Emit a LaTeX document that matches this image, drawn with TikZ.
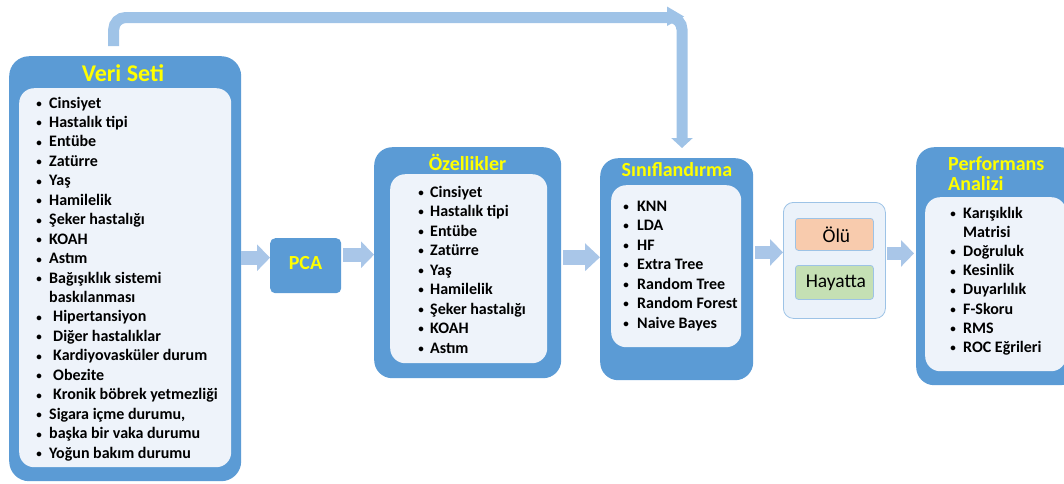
\documentclass[tikz,border=0pt]{standalone}
\usepackage{fontspec}
\setmainfont{Carlito}
\usetikzlibrary{arrows.meta,calc}

\definecolor{boxblue}{HTML}{5B9BD5}
\definecolor{panelc}{HTML}{EEF3FA}
\definecolor{flowc}{HTML}{A9C6E8}
\definecolor{topc}{HTML}{9FC3E7}
\definecolor{titleyel}{HTML}{FFFF00}
\definecolor{peach}{HTML}{F8CBAD}
\definecolor{sage}{HTML}{C5E0B4}
\definecolor{edgeblue}{HTML}{9DC3E6}
\definecolor{outfill}{HTML}{EBF2FA}

% small list bullet, centred in a box of the given width
\newcommand\itembul[1]{\makebox[#1]{\raisebox{0.6pt}{\fontsize{11}{11}\selectfont •}}}

\tikzset{
  outer/.style={fill=boxblue, rounded corners=20pt, anchor=north west, inner sep=0pt},
  panel/.style={fill=panelc, rounded corners=15pt, anchor=north west, inner sep=0pt},
  title/.style={text=titleyel, inner sep=0pt, font=\bfseries\fontsize{20}{20}\selectfont},
  item/.style={anchor=base west, inner sep=0pt, font=\bfseries\fontsize{16}{19}\selectfont},
  flow/.style={draw=flowc, line width=14pt, -{Triangle[width=26pt,length=13pt]}},
  topflow/.style={draw=topc, line width=11pt, rounded corners=12pt, -{Triangle[width=21pt,length=10pt]}},
  classbox/.style={draw=edgeblue, line width=0.8pt, rounded corners=3pt, anchor=north west,
    inner sep=0pt, font=\fontsize{19.5}{19.5}\selectfont}
}

\begin{document}
\begin{tikzpicture}[x=1pt,y=-1pt]
\useasboundingbox (0,0) rectangle (1064,483);
\clip (0,0) rectangle (1064,483);

% ---- Veri Seti -------------------------------------------------------
\node[outer, minimum width=232pt, minimum height=425pt] (vs) at (9,56) {};
\node[panel, minimum width=212pt, minimum height=379pt] (vsp) at (19,88) {};
\node[title, font=\bfseries\fontsize{24}{24}\selectfont] (vst) at (123,73) {Veri Seti};
\foreach \t [count=\i from 0] in {%
  \itembul{20pt}Cinsiyet,
  \itembul{20pt}Hastalık tipi,
  \itembul{20pt}Entübe,
  \itembul{20pt}Zatürre,
  \itembul{20pt}Yaş,
  \itembul{20pt}Hamilelik,
  \itembul{20pt}Şeker hastalığı,
  \itembul{20pt}KOAH,
  \itembul{20pt}Astım,
  \itembul{20pt}Bağışıklık sistemi,
  \hspace*{20pt}baskılanması,
  \itembul{20pt}\hspace{4pt}Hipertansiyon,
  \itembul{20pt}\hspace{4pt}Diğer hastalıklar,
  \itembul{20pt}\hspace{4pt}Kardiyovasküler durum,
  \itembul{20pt}\hspace{4pt}Obezite,
  \itembul{20pt}\hspace{4pt}Kronik böbrek yetmezliği,
  {\itembul{20pt}Sigara içme durumu,},
  \itembul{20pt}başka bir vaka durumu,
  \itembul{20pt}Yoğun bakım durumu}
  \node[item] (vs-\i) at (29, 108+19.45*\i) {\t};

% ---- PCA ---------------------------------------------------------------
\node[fill=boxblue, rounded corners=5pt, anchor=north west, inner sep=0pt,
      minimum width=71pt, minimum height=55pt] (pca) at (270,238) {};
\node[title] (pcat) at (305.5,263) {PCA};

% ---- Özellikler --------------------------------------------------------
\node[outer, rounded corners=18pt, minimum width=187pt, minimum height=231pt] (oz) at (374,147) {};
\node[panel, minimum width=157pt, minimum height=189pt] (ozp) at (390,174) {};
\node[title] (ozt) at (467.5,162) {Özellikler};
\foreach \t [count=\i from 0] in {%
  Cinsiyet, Hastalık tipi, Entübe, Zatürre, Yaş, Hamilelik,
  Şeker hastalığı, KOAH, Astım}
  \node[item] (oz-\i) at (412, 197+19.5*\i) {\itembul{18pt}\t};

% ---- Sınıflandırma -----------------------------------------------------
\node[outer, rounded corners=18pt, minimum width=153pt, minimum height=222pt] (cls) at (600,158) {};
\node[panel, minimum width=130pt, minimum height=162pt] (clsp) at (611,185) {};
\node[title] (clst) at (677,170) {Sınıflandırma};
\foreach \t [count=\i from 0] in {%
  KNN, LDA, HF, Extra Tree, Random Tree, Random Forest, Naive Bayes}
  \node[item] (cls-\i) at (615, 211+19.5*\i) {\itembul{22pt}\t};

% ---- Sonuç sınıfları ---------------------------------------------------
\node[draw=edgeblue, line width=0.8pt, fill=outfill, rounded corners=10pt,
      anchor=north west, minimum width=102pt, minimum height=116pt] (out) at (783,202) {};
\node[classbox, fill=peach, minimum width=78pt, minimum height=32pt] (olu) at (795,218) {\hspace{4pt}Ölü};
\node[classbox, fill=sage, minimum width=78pt, minimum height=34pt] (hay) at (795,265) {\hspace{3pt}Hayatta};

% ---- Performans Analizi ------------------------------------------------
\node[outer, rounded corners=18pt, minimum width=162pt, minimum height=238pt] (perf) at (916,147) {};
\node[panel, minimum width=141pt, minimum height=174pt] (perfp) at (925,197) {};
\node[title, anchor=west, align=left, font=\bfseries\fontsize{20}{20}\selectfont] (perft)
  at (948,174) {Performans\\Analizi};
\foreach \t [count=\i from 0] in {%
  \itembul{20pt}Karışıklık,
  \hspace*{20pt}Matrisi,
  \itembul{20pt}Doğruluk,
  \itembul{20pt}Kesinlik,
  \itembul{20pt}Duyarlılık,
  \itembul{20pt}F-Skoru,
  \itembul{20pt}RMS,
  \itembul{20pt}ROC Eğrileri}
  \node[item] (perf-\i) at (943, 218+19.2*\i) {\t};

% ---- Block arrows between stages --------------------------------------
\coordinate (a1) at ([yshift=8pt]pca.west);
\draw[flow] (vs.east |- a1) -- (a1);
\coordinate (a2) at ([yshift=8pt]oz.west);
\draw[flow] ([xshift=2pt]pca.east |- a2) -- (a2);
\coordinate (a3) at ([yshift=12pt]cls.west);
\draw[flow, line width=15pt, -{Triangle[width=27pt,length=15pt]}]
  ([xshift=2pt]oz.east |- a3) -- (a3);
\coordinate (a4) at ([yshift=8pt]out.west);
\draw[flow, line width=13pt] ([xshift=2pt]cls.east |- a4) -- (a4);
\coordinate (a5) at ([yshift=7pt]out.east);
\draw[flow, line width=13pt, shorten >=2pt] ([xshift=1pt]a5) -- (a5 -| perf.west);

% ---- Bypass from the data set straight to classification --------------
\coordinate (bend) at (682,17.5);
\draw[topflow, shorten <=10pt, shorten >=10pt]
  ([xshift=-11.5pt]vs.north) |- (bend) -- (bend |- cls.north);
\fill[topc] ($(bend)+(-15,-11)$) -- ($(bend)+(2,-1)$) -- ($(bend)+(-15,8.5)$) -- cycle;

\end{tikzpicture}
\end{document}
